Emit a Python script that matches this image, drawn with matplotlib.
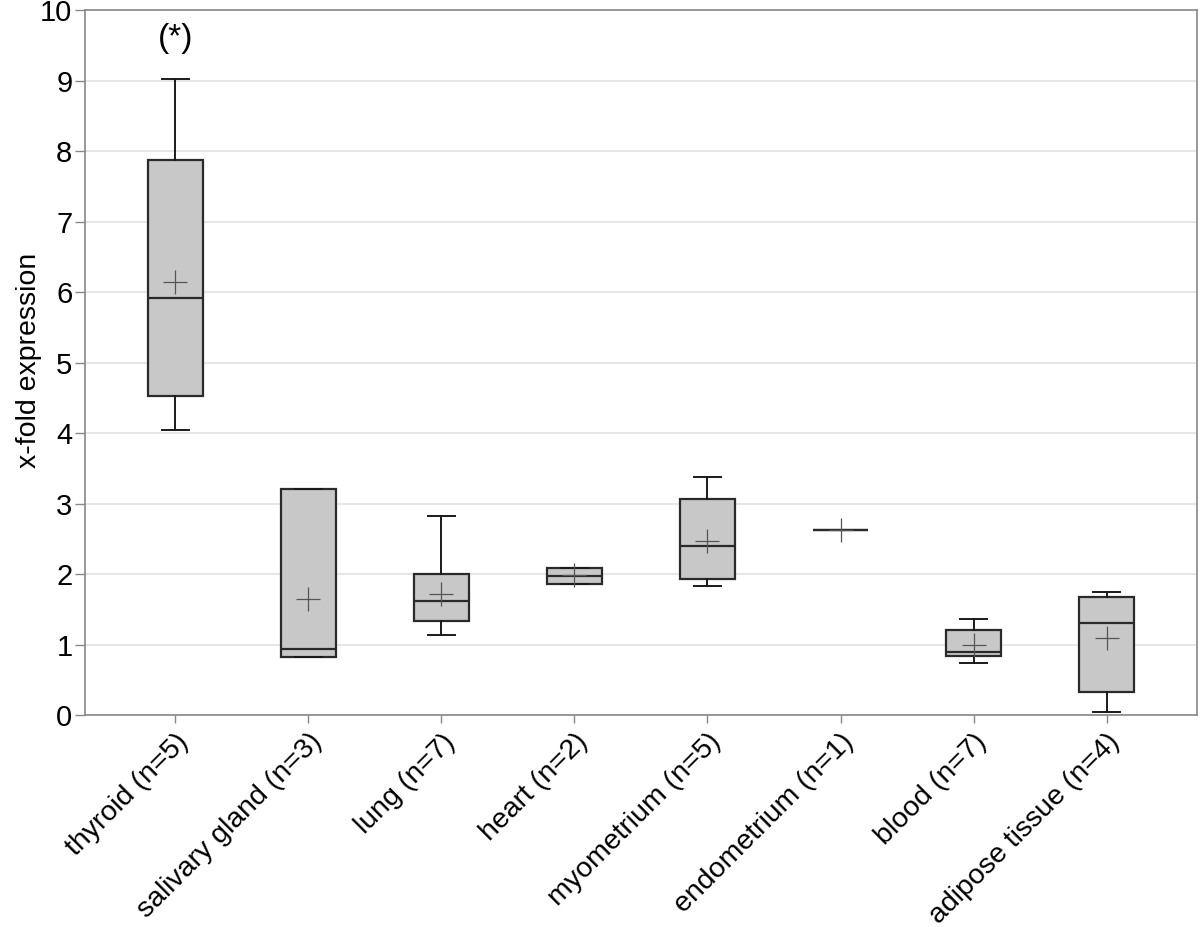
import matplotlib
matplotlib.use("Agg")
import matplotlib.pyplot as plt

plt.rcParams['font.family'] = ['Liberation Sans', 'DejaVu Sans']

categories = ["thyroid (n=5)", "salivary gland (n=3)", "lung (n=7)", "heart (n=2)",
              "myometrium (n=5)", "endometrium (n=1)", "blood (n=7)", "adipose tissue (n=4)"]
whisker_low = [4.05, 0.82, 1.13, 1.86, 1.83, 2.63, 0.74, 0.04]
q1 = [4.53, 0.82, 1.33, 1.86, 1.93, 2.63, 0.83, 0.32]
median = [5.92, 0.93, 1.62, 1.97, 2.40, 2.63, 0.90, 1.30]
q3 = [7.88, 3.20, 2.00, 2.09, 3.06, 2.63, 1.21, 1.67]
whisker_high = [9.02, 3.20, 2.83, 2.09, 3.38, 2.63, 1.36, 1.75]
means = [6.15, 1.65, 1.72, 1.98, 2.47, 2.63, 1.00, 1.09]

fig = plt.figure(figsize=(12, 9.27), dpi=100)
ax = fig.add_axes([0.0708, 0.2287, 0.9267, 0.7603])

stats = []
for i in range(len(categories)):
    stats.append(dict(whislo=whisker_low[i], q1=q1[i], med=median[i], q3=q3[i],
                      whishi=whisker_high[i], mean=means[i], fliers=[], label=categories[i]))

positions = list(range(len(categories)))
ax.bxp(stats, positions=positions, widths=0.41, patch_artist=True, showmeans=True,
       showfliers=False, capwidths=0.2,
       boxprops=dict(facecolor='#c8c8c8', edgecolor='#2a2a2a', linewidth=1.6),
       medianprops=dict(color='#2a2a2a', linewidth=1.6),
       whiskerprops=dict(color='#1a1a1a', linewidth=1.4),
       capprops=dict(color='#1a1a1a', linewidth=1.4),
       meanprops=dict(marker='+', markeredgecolor='#555555', markersize=17, markeredgewidth=0.9))

ax.set_xlim(-0.68, 7.68)
ax.set_ylim(0, 10)
ax.set_yticks(range(0, 11))
ax.tick_params(axis='y', labelsize=21, length=7, color='#888888', width=1, pad=2)
ax.tick_params(axis='x', labelsize=20.5, length=6, color='#888888', width=1, pad=4)
ax.set_xticks(positions)
ax.set_xticklabels(categories, rotation=45, ha='right', rotation_mode='anchor')
ax.set_ylabel("x-fold expression", fontsize=20.5)
ax.yaxis.set_label_coords(-0.039, 0.503)
ax.yaxis.grid(True, color='#e2e2e2', linewidth=1.2)
ax.set_axisbelow(True)
for s in ax.spines.values():
    s.set_color('#888888')
    s.set_linewidth(1.2)

ax.text(0, 9.6, "(*)", ha='center', va='center', fontsize=24)

fig.savefig("out.png", dpi=100)
